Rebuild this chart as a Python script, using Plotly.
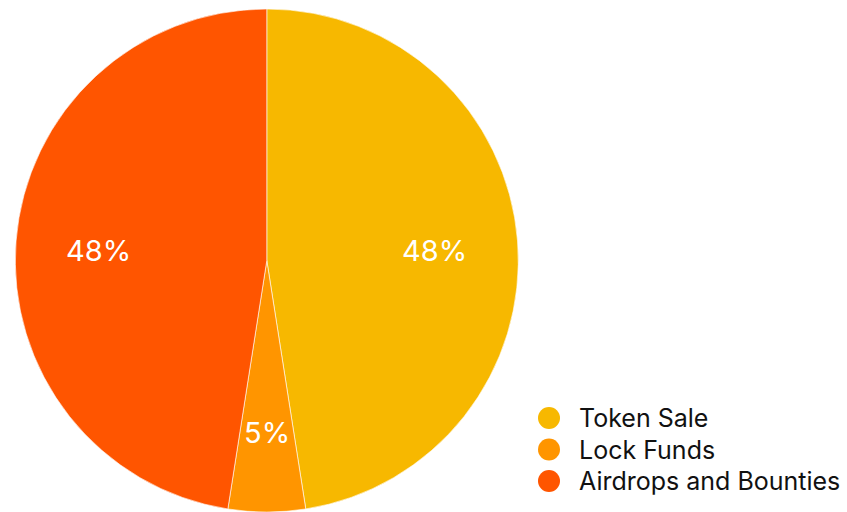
import math
import plotly.graph_objects as go

labels = ["Token Sale", "Lock Funds", "Airdrops and Bounties"]
values = [48, 5, 48]
colors = ["#F7B800", "#FF9500", "#FF5500"]

W, H = 847, 512
M_T, M_B = 9, 0
PH = H - M_T - M_B
DOM_X = [0, 0.63]

fig = go.Figure()
fig.add_trace(go.Pie(
    labels=labels,
    values=values,
    sort=False,
    direction="clockwise",
    rotation=0,
    marker=dict(colors=colors, line=dict(color="rgba(255,255,255,0.6)", width=1)),
    textinfo="none",
    showlegend=False,
    hoverinfo="label+percent",
    domain=dict(x=DOM_X, y=[0, 1]),
))

annotations = []
shapes = []

# percentage labels placed at 2/3 of the radius along each slice's mid-angle
cx_px = (DOM_X[0] + DOM_X[1]) / 2 * W
cy_px = M_T + PH / 2
radius = min((DOM_X[1] - DOM_X[0]) * W, PH) / 2
total = sum(values)
cum = 0
for v in values:
    mid = (cum + v / 2) / total * 2 * math.pi
    cum += v
    px = cx_px + 0.67 * radius * math.sin(mid)
    py = cy_px - 0.67 * radius * math.cos(mid) + 3
    annotations.append(dict(
        text=f"{round(100 * v / total)}%", xref="paper", yref="paper",
        x=px / W, y=(H - M_B - py) / PH, xanchor="center", yanchor="middle",
        showarrow=False,
        font=dict(family="Inter", size=29, color="white"),
    ))

# custom legend with circle symbols
leg_x_px = 549
leg_y0_px = 418
leg_step = 31.5
r_px = 11
for i, (lab, col) in enumerate(zip(labels, colors)):
    yc = leg_y0_px + i * leg_step
    yp = (H - M_B - yc) / PH
    xp = leg_x_px / W
    shapes.append(dict(
        type="circle", xref="paper", yref="paper",
        x0=xp - r_px / W, x1=xp + r_px / W,
        y0=yp - r_px / PH, y1=yp + r_px / PH,
        fillcolor=col, line=dict(width=0),
    ))
    annotations.append(dict(
        text=lab, xref="paper", yref="paper",
        x=577 / W, y=yp, xanchor="left", yanchor="middle",
        showarrow=False,
        font=dict(family="Inter", size=25, color="#111111"),
    ))

fig.update_layout(
    width=W, height=H,
    margin=dict(l=0, r=0, t=M_T, b=M_B),
    paper_bgcolor="white",
    plot_bgcolor="white",
    shapes=shapes,
    annotations=annotations,
)

fig.write_html("out.html")
